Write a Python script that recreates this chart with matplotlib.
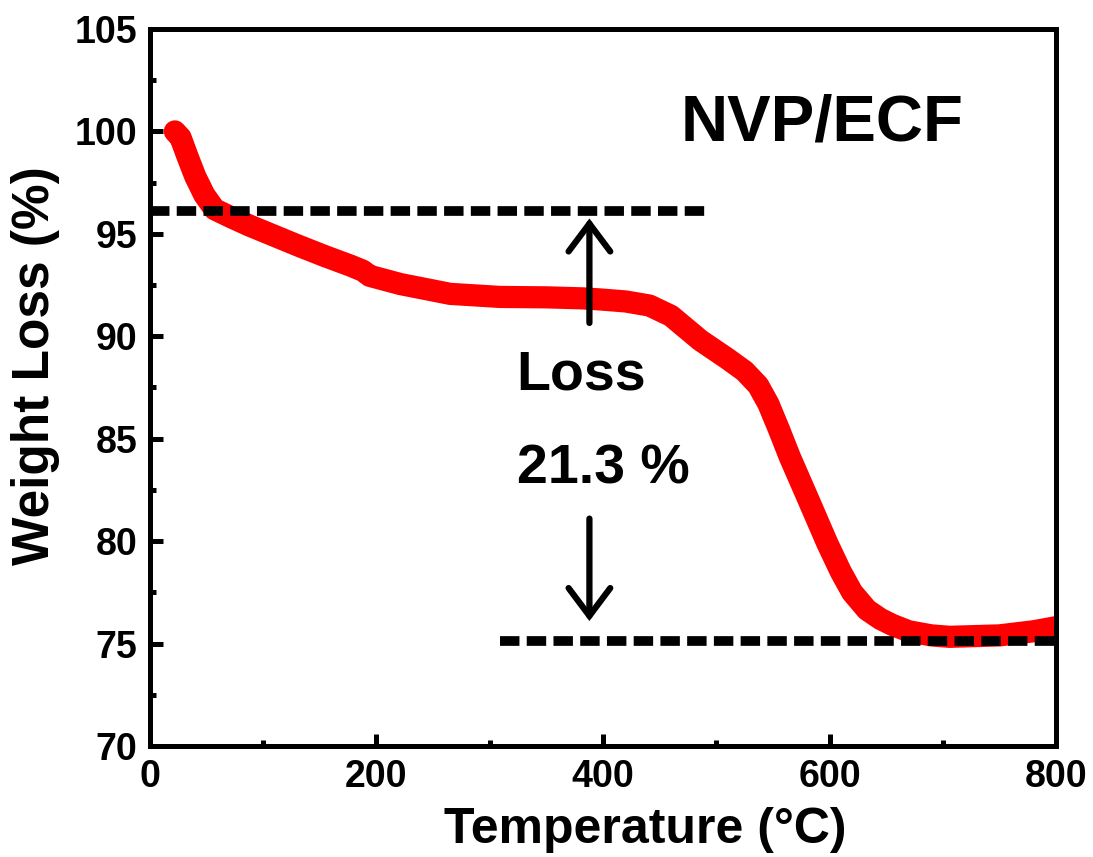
import matplotlib
matplotlib.use("Agg")
import matplotlib.pyplot as plt
from matplotlib.patches import FancyArrowPatch
from matplotlib.ticker import MultipleLocator

plt.rcParams['font.family'] = ['Liberation Sans', 'DejaVu Sans']
plt.rcParams['font.weight'] = 'bold'

# TGA curve
temperature = [22, 27, 33, 40, 48, 57, 72, 88, 110, 132, 155, 177, 188, 194, 221, 265,
               309, 350, 382, 397, 420, 441, 460, 486, 510, 525, 537, 546, 555, 565, 580,
               598, 610, 620, 633, 645, 656, 670, 690, 706, 750, 780, 800]
weight = [100.0, 99.7, 98.8, 97.8, 96.9, 96.2, 95.8, 95.4, 94.9, 94.4, 93.9, 93.45, 93.2,
          92.95, 92.55, 92.07, 91.92, 91.9, 91.85, 91.8, 91.7, 91.5, 91.0, 89.8, 88.9,
          88.3, 87.6, 86.7, 85.5, 84.1, 82.2, 79.9, 78.5, 77.5, 76.65, 76.2, 75.9, 75.6,
          75.4, 75.33, 75.4, 75.6, 75.8]

# reference levels
upper_level = 96.1
upper_span = [0, 492]
lower_level = 75.15
lower_span = [309, 800]

fig = plt.figure(figsize=(10.93, 8.57), dpi=100)
ax = fig.add_axes([0.1372, 0.1295, 0.829, 0.8367])

ax.plot(temperature, weight, color='#ff0000', lw=16, solid_capstyle='round',
        solid_joinstyle='round', zorder=2)

for span, lvl in [(upper_span, upper_level), (lower_span, lower_level)]:
    ln, = ax.plot(span, [lvl, lvl], color='black', lw=7, zorder=3)
    ln.set_dashes([2.0, 0.75])
    ln.set_dash_capstyle('butt')

# arrows
for start, end in [((388, 90.65), (388, 95.75)), ((388, 81.1), (388, 76.1))]:
    arr = FancyArrowPatch(start, end, arrowstyle='->,head_length=1.0,head_width=0.75',
                          mutation_scale=20, lw=4.5, color='black', zorder=4,
                          shrinkA=0, shrinkB=0, capstyle='round', joinstyle='miter')
    ax.add_patch(arr)

ax.text(381, 88.1, 'Loss', fontsize=40, fontweight='bold', ha='center', va='center')
ax.text(400, 83.5, '21.3 %', fontsize=40, fontweight='bold', ha='center', va='center')
ax.text(593, 100.4, 'NVP/ECF', fontsize=47, fontweight='bold', ha='center', va='center')

ax.set_xlim(0, 800)
ax.set_ylim(70, 105)
ax.xaxis.set_major_locator(MultipleLocator(200))
ax.xaxis.set_minor_locator(MultipleLocator(100))
ax.yaxis.set_major_locator(MultipleLocator(5))
ax.yaxis.set_minor_locator(MultipleLocator(2.5))

for s in ax.spines.values():
    s.set_linewidth(3.6)
ax.tick_params(which='both', direction='in', width=3.6, labelsize=27, top=False, right=False)
ax.tick_params(which='major', length=9, pad=9)
ax.tick_params(which='minor', length=4.5)
for lab in ax.get_xticklabels() + ax.get_yticklabels():
    lab.set_fontweight('bold')

ax.set_xlabel('Temperature (\u00b0C)', fontsize=36, fontweight='bold', labelpad=4)
ax.set_ylabel('Weight Loss (%)', fontsize=37, fontweight='bold', labelpad=6)
ax.xaxis.set_label_coords(0.547, -0.085)
ax.yaxis.set_label_coords(-0.099, 0.53)

fig.savefig('out.png', dpi=100)
